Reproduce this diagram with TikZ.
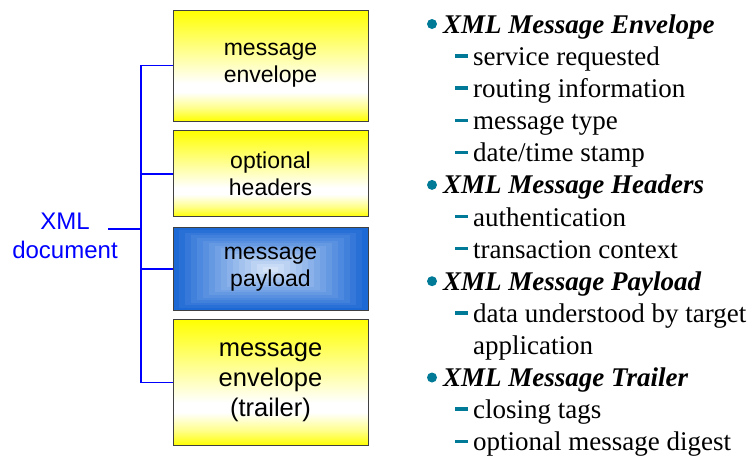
\documentclass[tikz,border=0pt]{standalone}
\usepackage{fontspec}
\setmainfont{Liberation Serif}
\newfontfamily\boxfont{Liberation Sans}
\usetikzlibrary{positioning}

\definecolor{bracketblue}{RGB}{0,0,255}
\definecolor{markteal}{RGB}{0,122,150}
\definecolor{payblue}{RGB}{28,104,212}
\definecolor{paylight}{RGB}{232,240,252}
\pgfdeclareverticalshading{yelband}{100bp}{color(0bp)=(yellow); color(25bp)=(yellow); color(31bp)=(yellow!45!white); color(38bp)=(white); color(42bp)=(white); color(75bp)=(yellow); color(100bp)=(yellow)}

\tikzset{
  part/.style={draw=black!75, line width=0.8pt, minimum width=195pt, align=center,
    font=\boxfont\fontsize{23}{27}\selectfont},
  yelpart/.style={part, shading=yelband},
  bracket/.style={draw=bracketblue, line width=1.6pt},
  head/.style={anchor=base west, inner sep=0pt, font=\fontsize{27}{32}\selectfont\bfseries\itshape},
  item/.style={anchor=base west, inner sep=0pt, font=\fontsize{27}{32}\selectfont}
}

\begin{document}
\begin{tikzpicture}[x=1pt,y=-1pt]
  \useasboundingbox (0,0) rectangle (753,459);
  % the four parts of the document
  \node [yelpart, minimum height=111pt] (env) at (270.5,65.5) {message\\envelope};
  \node [yelpart, minimum height=86pt, below=9pt of env] (hdr) {optional\\headers};
  \node [part, minimum height=83pt, below=10pt of hdr,
    path picture={
      \foreach \i [evaluate=\i as \t using int(100-6*\i)] in {0,...,15}
        \fill [payblue!\t!paylight] ([shift={(\i*6,\i*2.6)}]path picture bounding box.north west)
          rectangle ([shift={(-\i*6,-\i*2.6)}]path picture bounding box.south east);
    }] (pay) {message\\payload};
  \node [yelpart, minimum height=126pt, below=8pt of pay,
    font=\boxfont\fontsize{25.5}{30}\selectfont] (trl) {message\\envelope\\(trailer)};

  \node [align=center, text=bracketblue, font=\boxfont\fontsize{24}{29}\selectfont] (doc) at (65,236) {XML\\document};
  \coordinate (stub) at (108,229);
  \coordinate (jn) at (141,229);
  \draw [bracket] (stub) -- (jn);
  \draw [bracket] (env.west) -| (jn) |- (trl.west);
  \draw [bracket] (hdr.west) -- (hdr.west -| jn);
  \draw [bracket] (pay.west) -- (pay.west -| jn);

  % the list on the right
  \node [head] (h1) at (443,33) {XML Message Envelope};
  \node [item] (i1) at (473,65.5) {service requested};
  \node [item] (i2) at (473,97.6) {routing information};
  \node [item] (i3) at (473,129.7) {message type};
  \node [item] (i4) at (473,161.8) {date/time stamp};
  \node [head] (h2) at (443,193.9) {XML Message Headers};
  \node [item] (i5) at (473,226) {authentication};
  \node [item] (i6) at (473,258.1) {transaction context};
  \node [head] (h3) at (443,290.2) {XML Message Payload};
  \node [item] (i7) at (473,322.3) {data understood by target};
  \node [item] (i8) at (473,354.4) {application};
  \node [head] (h4) at (443,386.5) {XML Message Trailer};
  \node [item] (i9) at (473,418.6) {closing tags};
  \node [item] (i10) at (473,450.7) {optional message digest};

  \foreach \n in {h1,h2,h3,h4}
    \fill [markteal] ([shift={(-11,-9)}]\n.base west) circle (5);
  \foreach \n in {i1,i2,i3,i4,i5,i6,i7,i9,i10}
    \draw [markteal, line width=3.4pt] ([shift={(-18,-9.5)}]\n.base west) -- ([shift={(-5,-9.5)}]\n.base west);
\end{tikzpicture}
\end{document}
